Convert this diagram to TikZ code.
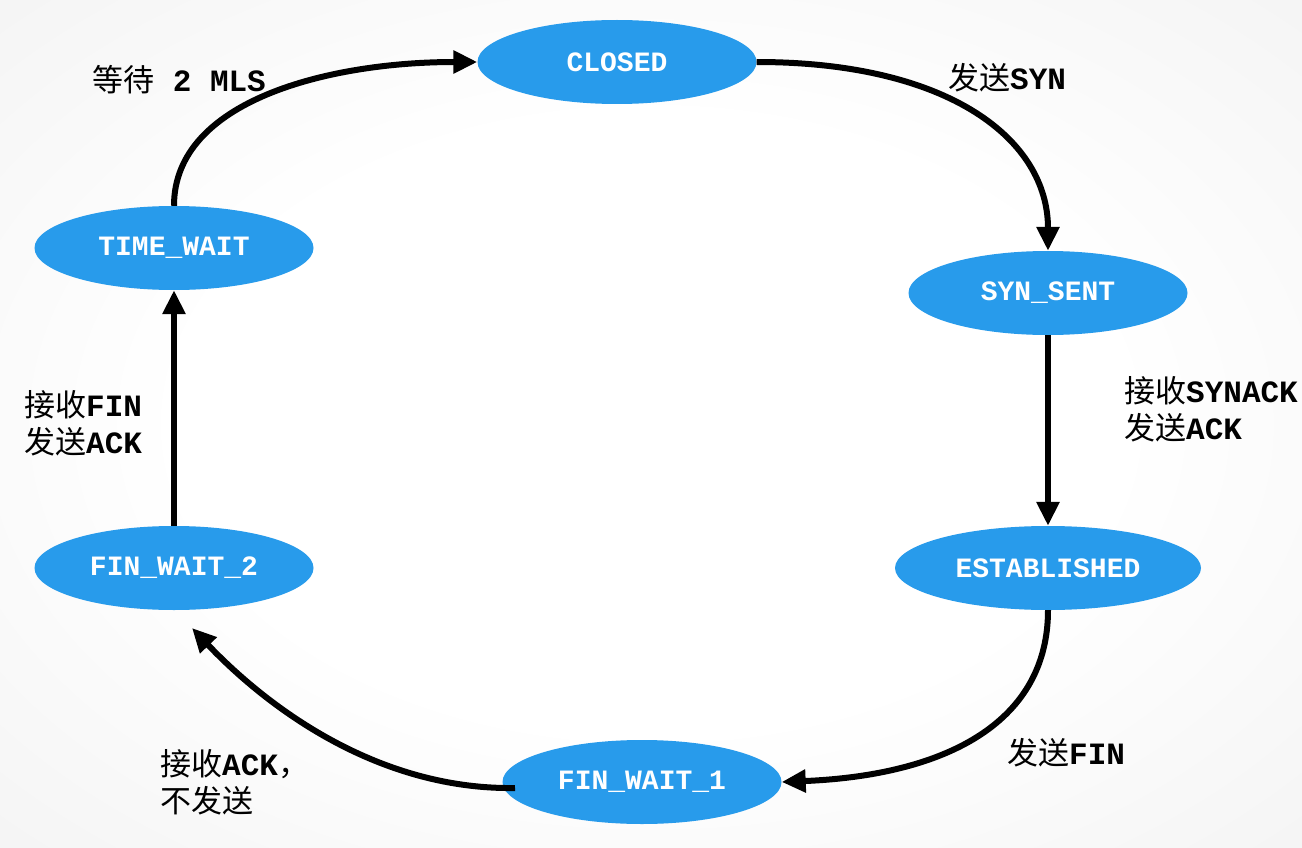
\documentclass[tikz,border=0pt]{standalone}
\usepackage{fontspec}
\setmainfont{Liberation Mono}
\setmonofont{Liberation Mono}
\newfontfamily\cjkfam{Noto Sans CJK SC}
\newcommand{\cjk}{\cjkfam\mdseries}
\usetikzlibrary{shapes.geometric,arrows.meta}
\definecolor{stateblue}{RGB}{40,155,235}
\definecolor{bgedge}{RGB}{236,236,236}
\definecolor{bgcorner}{RGB}{228,228,228}
\pgfdeclareradialshading{bgshade}{\pgfpoint{0bp}{0bp}}{color(0bp)=(white); color(18bp)=(white); color(50bp)=(bgedge); color(72bp)=(bgcorner)}
\begin{document}
\begin{tikzpicture}[x=1pt,y=-1pt,
  state/.style={ellipse, fill=stateblue, text=white, font=\fontsize{28}{30}\selectfont\bfseries\ttfamily, minimum width=279pt, minimum height=84pt, inner sep=0pt},
  lbl/.style={font=\fontsize{31}{37}\selectfont\bfseries\ttfamily, anchor=west, align=left, inner sep=0pt},
  conn/.style={line width=6pt, -{Triangle[length=24pt,width=22pt]}}]
\shade[shading=bgshade] (0,0) rectangle (1302,848);
\useasboundingbox (0,0) rectangle (1302,848);

\node[state] (closed) at (617,62) {CLOSED};
\node[state] (synsent) at (1048,293) {SYN\_SENT};
\node[state, minimum width=306pt] (est) at (1048,568) {ESTABLISHED};
\node[state] (fw1) at (642,782) {FIN\_WAIT\_1};
\node[state] (fw2) at (174,568) {FIN\_WAIT\_2};
\node[state] (tw) at (174,248) {TIME\_WAIT};

\draw[conn] (closed.east) .. controls (950,62) and (1048,140) .. (synsent.north);
\draw[conn] (synsent.south) -- (est.north);
\draw[conn] (est.south) .. controls (1048,720) and (950,775) .. (fw1.east);
\coordinate (fw1out) at (515,788);
\coordinate (fw2in) at (192,628);
\draw[conn] (fw1out) .. controls (380,790) and (270,710) .. (fw2in);
\draw[conn] (fw2.north) -- (tw.south);
\draw[conn] (tw.north) .. controls (174,100) and (330,62) .. (closed.west);

\node[lbl] (l1) at (92,80) {{\cjk 等待} 2 MLS};
\node[lbl] (l2) at (948,78) {{\cjk 发送}SYN};
\node[lbl] (l3) at (1124,409) {{\cjk 接收}SYNACK\\{\cjk 发送}ACK};
\node[lbl] (l4) at (1007,753) {{\cjk 发送}FIN};
\node[lbl] (l5) at (160,782) {{\cjk 接收}ACK{\cjk ，}\\{\cjk 不发送}};
\node[lbl] (l6) at (24,423) {{\cjk 接收}FIN\\{\cjk 发送}ACK};
\end{tikzpicture}
\end{document}
